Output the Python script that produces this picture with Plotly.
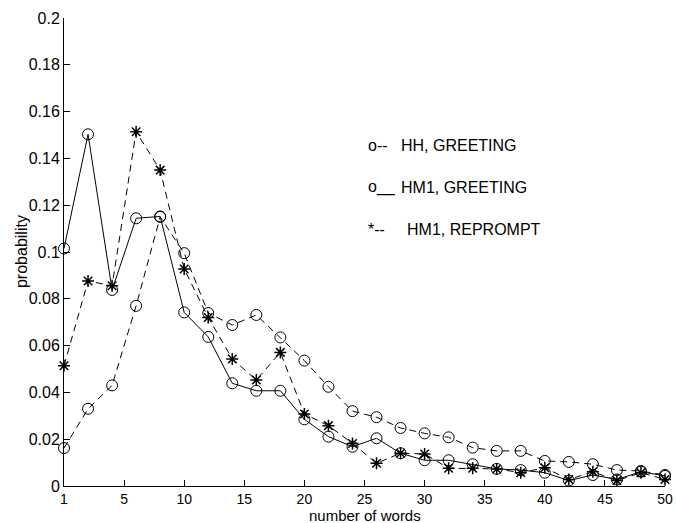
import plotly.graph_objects as go

# number-of-words bins (plotted positions; first bin labelled "1")
words = [0, 2, 4, 6, 8, 10, 12, 14, 16, 18, 20, 22, 24, 26, 28, 30, 32, 34, 36, 38, 40, 42, 44, 46, 48, 50]

hh_greeting = [0.0162, 0.033, 0.043, 0.077, 0.115, 0.0995, 0.0739, 0.0688, 0.0731, 0.0635, 0.0536, 0.0424,
               0.032, 0.0294, 0.0248, 0.0225, 0.0208, 0.0164, 0.015, 0.015, 0.0107, 0.0103, 0.0093,
               0.0068, 0.0064, 0.0047]
hm1_greeting = [0.1015, 0.1503, 0.0838, 0.1144, 0.1152, 0.0742, 0.0637, 0.0439, 0.0407, 0.0407, 0.0285,
                0.0211, 0.0168, 0.0204, 0.014, 0.011, 0.011, 0.0093, 0.0073, 0.0068, 0.0057, 0.0023,
                0.0047, 0.0028, 0.0061, 0.0043]
hm1_reprompt = [0.0514, 0.0876, 0.0856, 0.1514, 0.135, 0.0927, 0.072, 0.0543, 0.0453, 0.0571, 0.0308,
                0.0258, 0.0182, 0.0097, 0.014, 0.0137, 0.0076, 0.0076, 0.0073, 0.0057, 0.0078, 0.0028,
                0.0061, 0.0023, 0.0057, 0.0028]

x_tickvals = [0, 5, 10, 15, 20, 25, 30, 35, 40, 45, 50]
x_ticktext = ["1", "5", "10", "15", "20", "25", "30", "35", "40", "45", "50"]
y_tickvals = [0, 0.02, 0.04, 0.06, 0.08, 0.1, 0.12, 0.14, 0.16, 0.18, 0.2]
y_ticktext = ["0", "0.02", "0.04", "0.06", "0.08", "0.1", "0.12", "0.14", "0.16", "0.18", "0.2"]

legend_marks = ["o--", "o__", "*--"]
legend_names = ["HH, GREETING", "HM1, GREETING", "HM1, REPROMPT"]
x_title = "number of words"
y_title = "probability"

FONT = "Liberation Sans, Arial, Helvetica, sans-serif"
DASH = "7px,5px"

fig = go.Figure()
fig.add_trace(go.Scatter(
    x=words, y=hh_greeting, mode="lines+markers", name=legend_names[0],
    line=dict(color="black", width=1, dash=DASH),
    marker=dict(symbol="circle-open", size=11, color="black", line=dict(width=1)),
    cliponaxis=False))
fig.add_trace(go.Scatter(
    x=words, y=hm1_greeting, mode="lines+markers", name=legend_names[1],
    line=dict(color="black", width=1),
    marker=dict(symbol="circle-open", size=11, color="black", line=dict(width=1)),
    cliponaxis=False))
fig.add_trace(go.Scatter(
    x=words, y=hm1_reprompt, mode="lines+markers", name=legend_names[2],
    line=dict(color="black", width=1, dash=DASH),
    marker=dict(symbol="asterisk-open", size=10, color="black", line=dict(width=1.5, color="black")),
    cliponaxis=False))

# text legend as in the original
legend_y = [0.1457, 0.1277, 0.1098]
name_x = [27.9, 27.9, 28.4]
for mark, name, yy, nx in zip(legend_marks, legend_names, legend_y, name_x):
    fig.add_annotation(x=25.1, y=yy, text=mark, showarrow=False, xanchor="left",
                       font=dict(family=FONT, size=16, color="black"))
    fig.add_annotation(x=nx, y=yy, text=name, showarrow=False,
                       xanchor="left", font=dict(family=FONT, size=16, color="black"))

# axis titles
fig.add_annotation(x=0.5, y=-0.0625, xref="paper", yref="paper", text=x_title, showarrow=False,
                   xanchor="center", yanchor="middle", borderpad=0,
                   font=dict(family=FONT, size=15, color="black"))
fig.add_annotation(x=-0.0715, y=0.5, xref="paper", yref="paper", text=y_title, showarrow=False,
                   textangle=-90, xanchor="center", yanchor="middle", borderpad=0,
                   font=dict(family=FONT, size=16, color="black"))

fig.update_layout(
    width=676, height=523,
    margin=dict(l=64, r=11, t=18, b=37),
    paper_bgcolor="white", plot_bgcolor="white",
    showlegend=False,
    font=dict(family=FONT, size=16, color="black"),
    xaxis=dict(range=[0, 50], tickvals=x_tickvals, ticktext=x_ticktext, ticks="inside", ticklen=6,
               tickcolor="black", showline=True, linecolor="black", linewidth=1, showgrid=False,
               zeroline=False, mirror=False, automargin=False, tickfont=dict(size=14)),
    yaxis=dict(range=[0, 0.2], tickvals=y_tickvals, ticktext=y_ticktext, ticks="inside", ticklen=6,
               tickcolor="black", showline=True, linecolor="black", linewidth=1, showgrid=False,
               zeroline=False, mirror=False, automargin=False),
)

fig.write_html("out.html", config={"displayModeBar": False})

# remove the browser's default body margin so the figure sits at the page origin
with open("out.html", "r", encoding="utf-8") as f:
    html = f.read()
html = html.replace("<body>", '<body style="margin:0;padding:0;overflow:hidden">', 1)
with open("out.html", "w", encoding="utf-8") as f:
    f.write(html)
